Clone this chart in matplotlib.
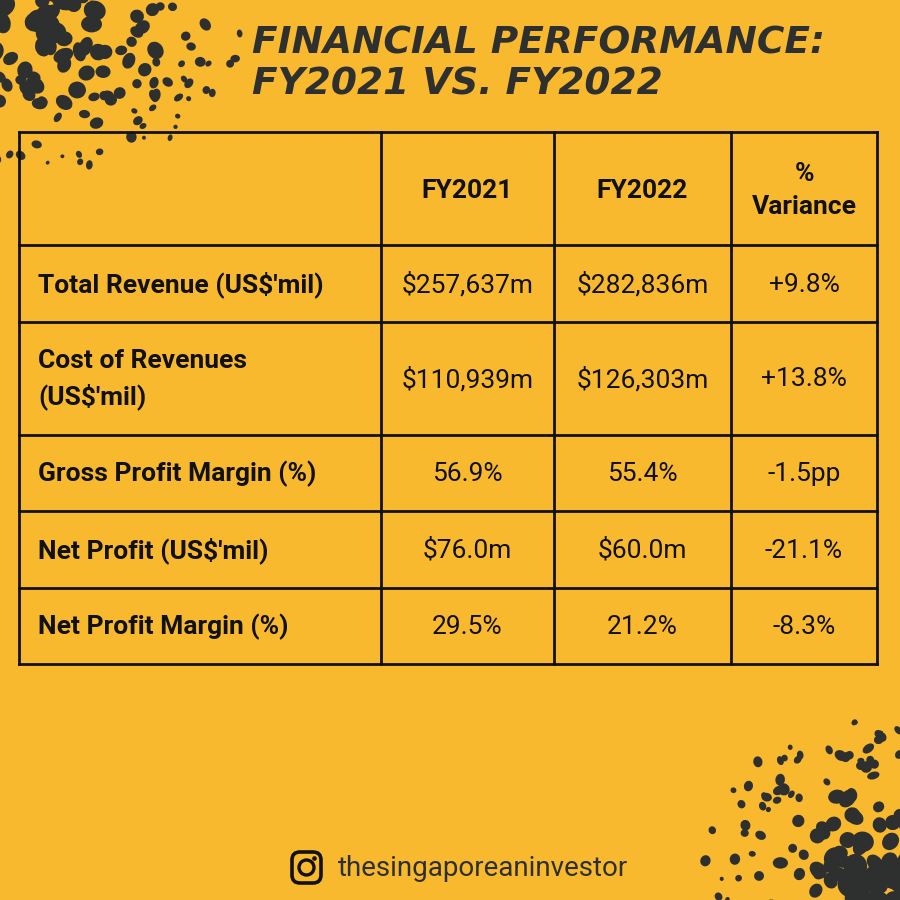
import numpy as np
import matplotlib
matplotlib.use("Agg")
import matplotlib.pyplot as plt
from matplotlib.patches import FancyBboxPatch, Circle, Ellipse

# table content
col_headers = ["", "FY2021", "FY2022", "%\nVariance"]
row_labels = ["Total Revenue (US$'mil)", "Cost of Revenues\n(US$'mil)",
              "Gross Profit Margin (%)", "Net Profit (US$'mil)",
              "Net Profit Margin (%)"]
fy2021 = ["$257,637m", "$110,939m", "56.9%", "$76.0m", "29.5%"]
fy2022 = ["$282,836m", "$126,303m", "55.4%", "$60.0m", "21.2%"]
variance = ["+9.8%", "+13.8%", "-1.5pp", "-21.1%", "-8.3%"]

title = "FINANCIAL PERFORMANCE:\nFY2021 VS. FY2022"
handle = "thesingaporeaninvestor"

# layout (pixels, y down)
bg = "#F9B92F"
ink = "#2E3030"
col_edges = [19, 381, 554, 731, 877]
row_edges = [132, 245, 322, 435, 511, 588, 664]

fig = plt.figure(figsize=(9, 9), dpi=100)
fig.patch.set_facecolor(bg)
ax = fig.add_axes([0, 0, 1, 1])
ax.set_xlim(0, 900)
ax.set_ylim(900, 0)
ax.axis("off")
ax.set_facecolor(bg)

# splatter decoration (fixed seed, purely ornamental)
rng = np.random.default_rng(3)
def splatter(cx, cy, rx, ry, n, big):
    for _ in range(n):
        d = rng.random() ** 0.7
        a = rng.random() * 2 * np.pi
        x = cx + rx * d * np.cos(a)
        y = cy + ry * d * np.sin(a)
        s = (1.0 - d) * big + rng.random() * 6 + 2.5
        ax.add_patch(Ellipse((x, y), s * (0.75 + rng.random() * 0.5),
                             s * (0.8 + rng.random() * 0.6),
                             angle=rng.random() * 180, color=ink, lw=0, zorder=1))
splatter(40, 20, 210, 150, 260, 14)
splatter(895, 895, 200, 185, 330, 16)

# title
ax.text(252, 64, title, fontsize=27, fontweight="bold", style="italic",
        family=["DejaVu Sans"], color=ink, ha="left", va="center",
        linespacing=1.15, zorder=3)

# grid lines
x0, x1 = col_edges[0], col_edges[-1]
y0, y1 = row_edges[0], row_edges[-1]
for y in row_edges:
    ax.plot([x0, x1], [y, y], color="#111111", lw=2, solid_capstyle="projecting", zorder=2)
for x in col_edges:
    ax.plot([x, x], [y0, y1], color="#111111", lw=2, solid_capstyle="projecting", zorder=2)

font = ["Roboto", "DejaVu Sans"]
fs = 19
col_mid = [(col_edges[i] + col_edges[i + 1]) / 2 for i in range(4)]

for j, h in enumerate(col_headers):
    if h:
        ax.text(col_mid[j], (row_edges[0] + row_edges[1]) / 2 + 2, h, fontsize=fs,
                fontweight="bold", family=font, color="#111111",
                ha="center", va="center", linespacing=1.45, zorder=3)

for i in range(len(row_labels)):
    ym = (row_edges[i + 1] + row_edges[i + 2]) / 2 + 1
    ax.text(38, ym, row_labels[i], fontsize=fs, fontweight="bold", family=font,
            color="#111111", ha="left", va="center", linespacing=1.45, zorder=3)
    for j, vals in enumerate([fy2021, fy2022, variance]):
        ax.text(col_mid[j + 1], ym, vals[i], fontsize=fs, family=font,
                color="#111111", ha="center", va="center", zorder=3)

# footer: instagram glyph + handle
ax.add_patch(FancyBboxPatch((292, 852), 29, 31, boxstyle="round,pad=0,rounding_size=8",
                            fill=False, ec="#111111", lw=2.6, zorder=3))
ax.add_patch(Circle((306.5, 867.5), 7.5, fill=False, ec="#111111", lw=2.4, zorder=3))
ax.add_patch(Circle((314.5, 858.5), 1.6, color="#111111", zorder=3))
ax.text(338, 868, handle, fontsize=20, family=font, color=ink,
        ha="left", va="center", zorder=3)

fig.savefig("out.png", dpi=100, facecolor=bg)
